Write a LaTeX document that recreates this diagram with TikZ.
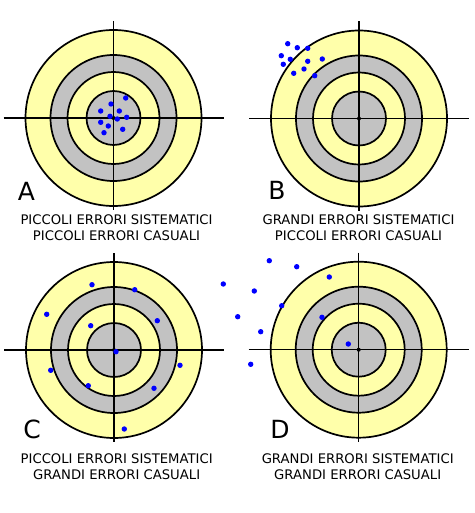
\documentclass[tikz,border=0pt]{standalone}
\usepackage{fontspec}
\setmainfont{DejaVu Sans}
\usetikzlibrary{positioning}

\definecolor{paleyellow}{HTML}{FFFFAA}
\definecolor{ringgray}{HTML}{C2C2C2}

\begin{document}
\begin{tikzpicture}[x=1pt,y=-1pt]

\tikzset{ring/.style = {draw=black, line width=1.7pt}}
\tikzset{cross/.style = {draw=black, line width=1.3pt}}
\tikzset{hit/.style = {fill=blue}}
\tikzset{letter/.style = {font=\fontsize{25}{25}\selectfont}}
\tikzset{caption/.style = {align=center, font=\fontsize{13.2}{16}\selectfont}}
\useasboundingbox (0,0) rectangle (474,513);
%centres
\coordinate (A) at (113.5,118);
\coordinate (B) at (359,118.5);
\coordinate (C) at (114,350);
\coordinate (D) at (358.7,349.7);
%targets
\foreach \c in {A,B,C,D} {
  \filldraw[ring, fill=paleyellow] (\c) circle (88pt);
  \filldraw[ring, fill=ringgray] (\c) circle (63pt);
  \filldraw[ring, fill=paleyellow] (\c) circle (46pt);
  \filldraw[ring, fill=ringgray] (\c) circle (27pt);
  \draw[cross, shift={(\c)}] (-110,0) -- (110,0) (0,-97) -- (0,92);
  \fill (\c) circle (2pt);
}
%hits
\foreach \p in {(125.7,98),(111,104),(100.7,111),(119.3,111),(110,116.3),(117.3,119),
  (126.7,117.3),(100.7,122.3),(108.3,126),(104,132.7),(122.7,129.3)}
  \fill[hit] \p circle (2.7pt);
\foreach \p in {(287.7,43.7),(297.3,47.7),(307.7,48.3),(281.3,55.7),(290.3,59.3),(307.7,61.3),
  (322.3,59),(283.3,64.3),(293.7,73.3),(304,69),(314.7,75.7)}
  \fill[hit] \p circle (2.7pt);
\foreach \p in {(92,284.7),(134.7,289.7),(46.7,314.3),(90.7,325.7),(157.3,320.7),(116,351.7),
  (180,365.3),(50.7,370.3),(88.3,385.7),(154,388.3),(124.3,429)}
  \fill[hit] \p circle (2.7pt);
\foreach \p in {(269.3,260.7),(296.7,266.7),(329.3,277),(223.3,284),(254.3,291),(281.7,305.7),
  (237.7,316.7),(322,317.3),(260.7,331.7),(348.3,344),(250.7,364.3)}
  \fill[hit] \p circle (2.7pt);
%labels
\node[letter] (la) at (26.5,191) {A};
\node[letter] (lb) at (277,190) {B};
\node[letter] (lc) at (32,429) {C};
\node[letter] (ld) at (280,429) {D};
\node[caption] (ca) at (116.5,228) {PICCOLI ERRORI SISTEMATICI\\PICCOLI ERRORI CASUALI};
\node[caption] (cb) at (358.5,228) {GRANDI ERRORI SISTEMATICI\\PICCOLI ERRORI CASUALI};
\node[caption] (cc) at (116.7,467) {PICCOLI ERRORI SISTEMATICI\\GRANDI ERRORI CASUALI};
\node[caption] (cd) at (357.7,467) {GRANDI ERRORI SISTEMATICI\\GRANDI ERRORI CASUALI};

\end{tikzpicture}
\end{document}
